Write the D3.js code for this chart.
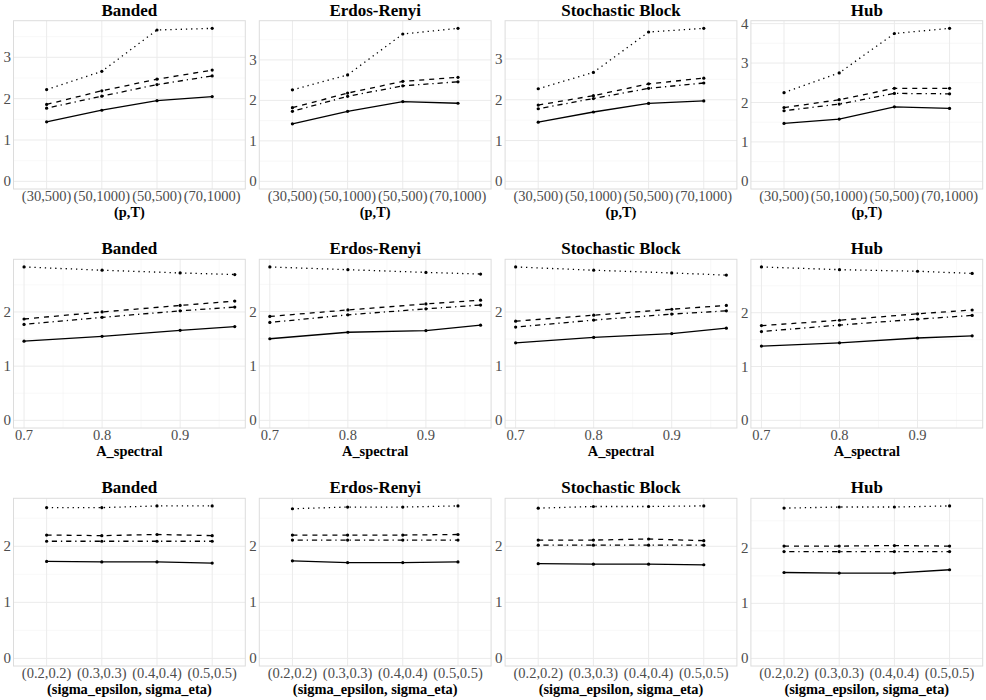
<!DOCTYPE html>
<html>
<head>
<meta charset="utf-8">
<script src="https://cdn.jsdelivr.net/npm/d3@7"></script>
<style>
  html, body { margin: 0; padding: 0; background: #fff; }
</style>
</head>
<body>
<svg id="chart" width="986" height="700"></svg>
<script>
// ---------------- DATA ----------------
const graphTypes = ["Banded", "Erdos-Renyi", "Stochastic Block", "Hub"];

// Row 1: (p,T)
const ptLabels = ["(30,500)", "(50,1000)", "(50,500)", "(70,1000)"];
const ptSolid   = [[1.44, 1.72, 1.95, 2.05], [1.42, 1.73, 1.97, 1.93], [1.45, 1.70, 1.91, 1.97], [1.47, 1.58, 1.89, 1.85]];
const ptDashed  = [[1.86, 2.19, 2.47, 2.69], [1.82, 2.18, 2.47, 2.57], [1.87, 2.10, 2.39, 2.53], [1.87, 2.07, 2.36, 2.36]];
const ptDotdash = [[1.77, 2.06, 2.34, 2.55], [1.73, 2.10, 2.36, 2.46], [1.78, 2.03, 2.28, 2.41], [1.79, 1.96, 2.23, 2.22]];
const ptDotted  = [[2.22, 2.66, 3.66, 3.70], [2.26, 2.63, 3.64, 3.78], [2.27, 2.67, 3.66, 3.75], [2.25, 2.75, 3.75, 3.88]];

// Row 2: A_spectral
const aSpectral = [0.7, 0.8, 0.9, 0.97];
const asSolid   = [[1.46, 1.55, 1.66, 1.73], [1.50, 1.62, 1.65, 1.75], [1.43, 1.53, 1.60, 1.70], [1.38, 1.44, 1.53, 1.57]];
const asDashed  = [[1.87, 2.00, 2.12, 2.20], [1.91, 2.03, 2.14, 2.21], [1.83, 1.94, 2.05, 2.12], [1.76, 1.86, 1.98, 2.05]];
const asDotdash = [[1.77, 1.90, 2.02, 2.09], [1.80, 1.94, 2.05, 2.12], [1.72, 1.85, 1.96, 2.02], [1.65, 1.77, 1.88, 1.95]];
const asDotted  = [[2.83, 2.77, 2.72, 2.69], [2.82, 2.77, 2.72, 2.69], [2.83, 2.77, 2.72, 2.68], [2.85, 2.80, 2.77, 2.73]];
const aSpectralTicks = [0.7, 0.8, 0.9];

// Row 3: (sigma_epsilon, sigma_eta)
const sigmaLabels = ["(0.2,0.2)", "(0.3,0.3)", "(0.4,0.4)", "(0.5,0.5)"];
const sgSolid   = [[1.73, 1.72, 1.72, 1.70], [1.74, 1.71, 1.71, 1.72], [1.69, 1.68, 1.68, 1.67], [1.56, 1.55, 1.55, 1.61]];
const sgDashed  = [[2.20, 2.19, 2.21, 2.19], [2.20, 2.20, 2.20, 2.21], [2.11, 2.11, 2.13, 2.10], [2.04, 2.04, 2.05, 2.04]];
const sgDotdash = [[2.09, 2.09, 2.09, 2.09], [2.11, 2.11, 2.11, 2.11], [2.02, 2.02, 2.02, 2.02], [1.94, 1.94, 1.94, 1.94]];
const sgDotted  = [[2.69, 2.69, 2.72, 2.72], [2.67, 2.70, 2.70, 2.72], [2.68, 2.71, 2.71, 2.72], [2.73, 2.75, 2.75, 2.77]];

const lineTypes = ["solid", "dashed", "dotdash", "dotted"];
const xTitles = ["(p,T)", "A_spectral", "(sigma_epsilon, sigma_eta)"];

// ---------------- LAYOUT / STYLE ----------------
const dashes = { solid: null, dashed: "5,5", dotdash: "1.3,3.9,5.2,3.9", dotted: "1.3,3.9" };
const colStep = 245.8, plotLeft0 = 13.5, plotW = 231.8;
const rowBoxes = [ { top: 20.7, bottom: 189 }, { top: 259.3, bottom: 428 }, { top: 498.3, bottom: 666 } ];
const FONT = '"Liberation Serif"';

const rows = [
  { kind: "band", cats: ptLabels, series: [ptSolid, ptDashed, ptDotdash, ptDotted] },
  { kind: "lin",  xs: aSpectral, series: [asSolid, asDashed, asDotdash, asDotted] },
  { kind: "band", cats: sigmaLabels, series: [sgSolid, sgDashed, sgDotdash, sgDotted] }
];

const svg = d3.select("#chart");

function txt(sel, size, bold, fill) {
  return sel.style("font-family", FONT).style("font-size", size + "px")
    .style("font-weight", bold ? "bold" : "normal").attr("fill", fill);
}

rows.forEach((row, ri) => {
  const box = rowBoxes[ri];
  graphTypes.forEach((g, gi) => {
    const left = plotLeft0 + gi * colStep;
    const right = left + plotW;
    const top = box.top, bottom = box.bottom;

    let x, xVals, xTickVals, xMinor = [];
    if (row.kind === "band") {
      x = d3.scalePoint().domain(row.cats).range([left, right]).padding(0.6);
      xVals = row.cats;
      xTickVals = row.cats;
    } else {
      const ext = d3.extent(row.xs);
      const pad = (ext[1] - ext[0]) * 0.05;
      x = d3.scaleLinear().domain([ext[0] - pad, ext[1] + pad]).range([left, right]);
      xVals = row.xs;
      xTickVals = aSpectralTicks;
      for (let i = 0; i < xTickVals.length; i++) {
        const m = xTickVals[i] + 0.05;
        if (m <= x.domain()[1]) xMinor.push(m);
      }
    }
    const allVals = row.series.flatMap(s => s[gi]);
    const ymax = d3.max(allVals);
    const ypad = ymax * 0.05;
    const y = d3.scaleLinear().domain([-ypad, ymax + ypad]).range([bottom, top]);
    const yTicks = d3.range(0, Math.floor(ymax + ypad) + 1);
    const yMinor = yTicks.map(t => t + 0.5).filter(v => v <= ymax + ypad);

    const gp = svg.append("g");

    gp.selectAll(".ymin").data(yMinor).enter().append("line")
      .attr("x1", left).attr("x2", right).attr("y1", d => y(d)).attr("y2", d => y(d))
      .attr("stroke", "#f3f3f3").attr("stroke-width", 0.6);
    gp.selectAll(".xmin").data(xMinor).enter().append("line")
      .attr("y1", top).attr("y2", bottom).attr("x1", d => x(d)).attr("x2", d => x(d))
      .attr("stroke", "#f3f3f3").attr("stroke-width", 0.6);
    gp.selectAll(".ymaj").data(yTicks).enter().append("line")
      .attr("x1", left).attr("x2", right).attr("y1", d => y(d)).attr("y2", d => y(d))
      .attr("stroke", "#ebebeb").attr("stroke-width", 1);
    gp.selectAll(".xmaj").data(xTickVals).enter().append("line")
      .attr("y1", top).attr("y2", bottom).attr("x1", d => x(d)).attr("x2", d => x(d))
      .attr("stroke", "#ebebeb").attr("stroke-width", 1);

    gp.append("rect").attr("x", left).attr("y", top).attr("width", right - left).attr("height", bottom - top)
      .attr("fill", "none").attr("stroke", "#dcdcdc").attr("stroke-width", 1);

    row.series.forEach((s, si) => {
      const vals = s[gi];
      const pts = xVals.map((xv, k) => [x(xv), y(vals[k])]);
      gp.append("path").attr("d", d3.line()(pts))
        .attr("fill", "none").attr("stroke", "#000").attr("stroke-width", 1.3)
        .attr("stroke-dasharray", dashes[lineTypes[si]]);
      gp.selectAll(null).data(pts).enter().append("circle")
        .attr("cx", d => d[0]).attr("cy", d => d[1]).attr("r", 1.6).attr("fill", "#000");
    });

    txt(gp.selectAll(".ytl").data(yTicks).enter().append("text")
      .attr("x", left - 2.5).attr("y", d => y(d)).attr("dy", "0.34em")
      .attr("text-anchor", "end"), 15, false, "#4d4d4d").text(d => d);

    txt(gp.selectAll(".xtl").data(xTickVals).enter().append("text")
      .attr("x", d => x(d)).attr("y", bottom + 12)
      .attr("text-anchor", "middle"), 14.5, false, "#4d4d4d").text(d => d);

    txt(gp.append("text").attr("x", (left + right) / 2).attr("y", bottom + 27.6)
      .attr("text-anchor", "middle"), 14.4, true, "#000").text(xTitles[ri]);

    txt(gp.append("text").attr("x", (left + right) / 2).attr("y", top - 5)
      .attr("text-anchor", "middle"), 17, true, "#000").text(g);
  });
});
</script>
</body>
</html>
